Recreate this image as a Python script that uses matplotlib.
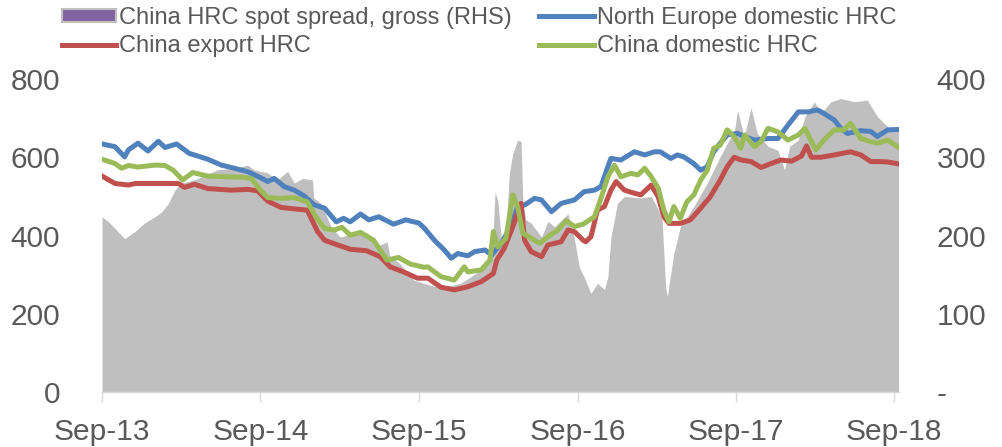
import matplotlib
matplotlib.use("Agg")
import matplotlib.pyplot as plt
import matplotlib.dates as mdates
from matplotlib.patches import Patch
from matplotlib.lines import Line2D
import pandas as pd

plt.rcParams["font.family"] = ["Liberation Sans", "DejaVu Sans"]

# 数据（从图上读取，USD/t）
ne_dates = ["2013-09-01", "2013-10-01", "2013-10-23", "2013-11-01", "2013-11-23", "2013-12-16",
            "2014-01-09", "2014-01-24", "2014-02-20", "2014-03-21", "2014-05-03", "2014-06-03",
            "2014-07-03", "2014-08-03", "2014-09-01", "2014-09-18", "2014-10-03", "2014-10-26",
            "2014-11-18", "2014-12-10", "2015-01-04", "2015-01-27", "2015-02-23", "2015-03-12",
            "2015-03-27", "2015-04-20", "2015-05-09", "2015-06-01", "2015-07-05", "2015-08-02",
            "2015-09-01", "2015-09-13", "2015-10-07", "2015-10-30", "2015-11-15", "2015-11-30",
            "2015-12-23", "2016-01-08", "2016-02-01", "2016-02-16", "2016-03-09", "2016-04-01",
            "2016-04-16", "2016-05-02", "2016-05-25", "2016-06-10", "2016-07-03", "2016-07-25",
            "2016-08-25", "2016-09-16", "2016-10-10", "2016-10-25", "2016-11-10", "2016-11-17",
            "2016-12-10", "2017-01-10", "2017-02-03", "2017-02-25", "2017-03-11", "2017-04-04",
            "2017-04-19", "2017-05-04", "2017-05-27", "2017-06-12", "2017-06-27", "2017-07-12",
            "2017-07-27", "2017-08-12", "2017-09-05", "2017-09-21", "2017-10-14", "2017-11-14",
            "2017-12-07", "2017-12-30", "2018-01-23", "2018-02-15", "2018-03-08", "2018-03-23",
            "2018-04-16", "2018-05-01", "2018-05-16", "2018-06-16", "2018-07-09", "2018-07-24",
            "2018-08-17", "2018-09-11"]
ne_hrc = [634, 627, 601, 619, 636, 616,
          641, 625, 634, 610, 595, 580,
          572, 563, 548, 538, 546, 525,
          516, 502, 478, 470, 435, 444,
          435, 455, 440, 448, 429, 440,
          432, 420, 388, 363, 342, 354,
          348, 359, 363, 350, 380, 423,
          474, 478, 495, 491, 461, 482,
          491, 512, 516, 525, 576, 597,
          593, 614, 606, 614, 614, 597,
          606, 601, 584, 567, 576, 614,
          636, 657, 661, 653, 644, 648,
          648, 682, 716, 716, 721, 712,
          695, 674, 661, 668, 666, 653,
          670, 671]

cn_exp_dates = ["2013-09-01", "2013-10-01", "2013-11-01", "2013-11-16", "2014-02-24", "2014-03-10",
                "2014-04-02", "2014-05-03", "2014-06-26", "2014-08-03", "2014-08-26", "2014-09-18",
                "2014-10-18", "2014-11-18", "2014-12-18", "2015-01-11", "2015-01-27", "2015-02-26",
                "2015-03-27", "2015-05-04", "2015-06-04", "2015-06-27", "2015-07-28", "2015-08-29",
                "2015-09-22", "2015-10-22", "2015-11-22", "2015-12-23", "2016-01-23", "2016-02-20",
                "2016-02-28", "2016-03-16", "2016-04-05", "2016-04-24", "2016-05-02", "2016-05-17",
                "2016-06-10", "2016-06-25", "2016-07-25", "2016-08-10", "2016-08-25", "2016-09-14",
                "2016-09-20", "2016-10-02", "2016-10-17", "2016-11-02", "2016-11-17", "2016-11-29",
                "2016-12-18", "2017-01-10", "2017-01-25", "2017-02-18", "2017-03-06", "2017-03-19",
                "2017-03-31", "2017-04-26", "2017-05-19", "2017-06-12", "2017-07-04", "2017-07-27",
                "2017-08-12", "2017-08-28", "2017-09-13", "2017-10-06", "2017-10-29", "2017-11-21",
                "2017-12-14", "2018-01-07", "2018-01-30", "2018-02-11", "2018-02-22", "2018-03-16",
                "2018-04-16", "2018-05-23", "2018-06-16", "2018-07-09", "2018-08-01", "2018-08-17",
                "2018-09-11"]
cn_exp_hrc = [552, 533, 529, 533, 533, 523,
              531, 520, 516, 518, 514, 488,
              472, 468, 465, 410, 388, 376,
              365, 361, 346, 320, 307, 291,
              291, 268, 261, 269, 282, 303,
              337, 367, 423, 482, 388, 359,
              346, 376, 384, 414, 410, 388,
              384, 397, 465, 474, 516, 538,
              516, 508, 504, 529, 499, 448,
              431, 431, 440, 470, 499, 542,
              576, 600, 593, 589, 574, 584,
              593, 590, 603, 629, 600, 600,
              606, 614, 606, 589, 589, 588,
              583]

cn_dom_dates = ["2013-09-01", "2013-10-01", "2013-10-16", "2013-11-01", "2013-11-23", "2014-01-01",
                "2014-01-24", "2014-02-12", "2014-03-06", "2014-03-29", "2014-05-03", "2014-06-18",
                "2014-07-26", "2014-08-12", "2014-09-01", "2014-09-18", "2014-10-18", "2014-11-18",
                "2014-12-18", "2015-01-07", "2015-01-27", "2015-02-18", "2015-03-08", "2015-03-27",
                "2015-04-20", "2015-05-20", "2015-06-20", "2015-07-16", "2015-08-13", "2015-09-13",
                "2015-09-22", "2015-10-22", "2015-11-22", "2015-12-15", "2015-12-23", "2016-01-23",
                "2016-02-12", "2016-02-20", "2016-03-01", "2016-03-20", "2016-04-05", "2016-04-16",
                "2016-04-28", "2016-05-17", "2016-06-06", "2016-06-25", "2016-07-18", "2016-08-06",
                "2016-08-25", "2016-09-14", "2016-10-10", "2016-10-25", "2016-11-10", "2016-11-25",
                "2016-12-10", "2017-01-02", "2017-01-18", "2017-02-03", "2017-02-18", "2017-03-06",
                "2017-03-19", "2017-03-31", "2017-04-11", "2017-04-26", "2017-05-11", "2017-05-27",
                "2017-06-12", "2017-06-27", "2017-07-12", "2017-07-27", "2017-08-12", "2017-08-28",
                "2017-09-12", "2017-09-21", "2017-10-14", "2017-10-29", "2017-11-14", "2017-12-07",
                "2017-12-30", "2018-01-23", "2018-02-07", "2018-03-04", "2018-03-23", "2018-04-16",
                "2018-05-08", "2018-05-23", "2018-06-16", "2018-07-09", "2018-07-24", "2018-08-17",
                "2018-09-11"]
cn_dom_hrc = [595, 584, 572, 579, 575, 580,
              579, 567, 542, 561, 552, 550,
              549, 545, 516, 497, 495, 497,
              486, 448, 418, 414, 421, 401,
              408, 388, 337, 344, 327, 319,
              320, 295, 286, 320, 307, 312,
              337, 410, 371, 393, 504, 474,
              406, 393, 380, 397, 414, 438,
              423, 429, 448, 495, 550, 580,
              550, 559, 555, 572, 550, 521,
              465, 435, 474, 444, 486, 504,
              542, 567, 623, 631, 670, 653,
              623, 657, 627, 640, 674, 665,
              644, 657, 674, 619, 644, 670,
              670, 687, 648, 640, 636, 644,
              625]

spread_dates = ["2013-09-01", "2013-09-15", "2013-10-01", "2013-10-23", "2013-11-16", "2013-12-08",
                "2014-01-01", "2014-01-16", "2014-02-01", "2014-02-16", "2014-03-02", "2014-04-02",
                "2014-05-25", "2014-07-03", "2014-08-03", "2014-08-17", "2014-09-18", "2014-10-10",
                "2014-11-03", "2014-11-18", "2014-12-07", "2014-12-30", "2015-01-02", "2015-01-19",
                "2015-02-11", "2015-03-04", "2015-04-04", "2015-05-04", "2015-05-27", "2015-06-20",
                "2015-06-27", "2015-07-20", "2015-08-20", "2015-09-13", "2015-10-07", "2015-11-07",
                "2015-12-07", "2016-01-23", "2016-02-12", "2016-02-20", "2016-02-24", "2016-03-01",
                "2016-03-09", "2016-03-20", "2016-03-28", "2016-04-05", "2016-04-16", "2016-04-24",
                "2016-04-28", "2016-05-05", "2016-05-17", "2016-06-10", "2016-06-25", "2016-07-10",
                "2016-08-10", "2016-08-24", "2016-09-05", "2016-09-16", "2016-10-02", "2016-10-17",
                "2016-11-02", "2016-11-10", "2016-11-17", "2016-12-02", "2016-12-18", "2017-01-25",
                "2017-02-18", "2017-03-06", "2017-03-15", "2017-03-23", "2017-03-27", "2017-04-11",
                "2017-04-26", "2017-05-27", "2017-06-27", "2017-07-27", "2017-08-20", "2017-08-29",
                "2017-09-05", "2017-09-20", "2017-10-06", "2017-10-20", "2017-11-14", "2017-12-07",
                "2017-12-22", "2018-01-03", "2018-01-23", "2018-02-07", "2018-03-01", "2018-03-16",
                "2018-04-08", "2018-05-01", "2018-06-01", "2018-07-01", "2018-07-24", "2018-08-17",
                "2018-09-11"]
spread = [224, 218, 209, 196, 205, 216,
          224, 230, 241, 258, 267, 271,
          284, 286, 290, 284, 280, 271,
          282, 267, 273, 271, 248, 241,
          211, 198, 203, 203, 186, 192,
          173, 164, 143, 139, 135, 135,
          139, 156, 173, 211, 256, 245,
          198, 207, 280, 305, 322, 320,
          241, 220, 216, 198, 218, 211,
          228, 198, 160, 147, 126, 139,
          131, 147, 198, 241, 250, 248,
          250, 233, 220, 135, 122, 177,
          211, 237, 267, 301, 326, 335,
          360, 326, 363, 331, 314, 309,
          284, 314, 322, 352, 371, 356,
          371, 375, 371, 373, 352, 339,
          335]

x_ticks = ["2013-09-01", "2014-09-01", "2015-09-01", "2016-09-01", "2017-09-01", "2018-09-01"]

# 样式
TEXT_COLOR = "#595959"
GREY = "#BFBFBF"
BLUE = "#4F81BD"
RED = "#C0504D"
GREEN = "#9BBB59"
PURPLE = "#8064A2"
LW = 3.6

fig = plt.figure(figsize=(10.02, 4.47), dpi=100)
ax = fig.add_axes([0.1018, 0.123, 0.7954, 0.7002])
ax2 = ax.twinx()

# 价差面积图（右轴），放在折线后面
ax2.fill_between(pd.to_datetime(spread_dates), spread, 0, color=GREY, linewidth=0)
ax.set_zorder(ax2.get_zorder() + 1)
ax.patch.set_visible(False)

ax.plot(pd.to_datetime(ne_dates), ne_hrc, color=BLUE, lw=LW)
ax.plot(pd.to_datetime(cn_exp_dates), cn_exp_hrc, color=RED, lw=LW)
ax.plot(pd.to_datetime(cn_dom_dates), cn_dom_hrc, color=GREEN, lw=LW)

ax.set_xlim(pd.Timestamp("2013-09-01"), pd.Timestamp("2018-09-12"))
ax.set_ylim(0, 800)
ax2.set_ylim(0, 400)

ax.set_yticks([0, 200, 400, 600, 800])
ax2.set_yticks([0, 100, 200, 300, 400])
ax2.set_yticklabels(["-", "100", "200", "300", "400"])

ax.set_xticks(pd.to_datetime(x_ticks))
ax.xaxis.set_major_formatter(mdates.DateFormatter("%b-%y"))

for a in (ax, ax2):
    for s in a.spines.values():
        s.set_visible(False)
ax.spines["bottom"].set_visible(True)
ax.spines["bottom"].set_color("#D9D9D9")
ax.spines["bottom"].set_linewidth(1.0)

ax.tick_params(axis="x", colors="#D9D9D9", length=7, width=1, pad=12,
               labelcolor=TEXT_COLOR, labelsize=21.5)
ax.tick_params(axis="y", length=0, pad=30, labelcolor=TEXT_COLOR, labelsize=21.5)
ax2.tick_params(axis="y", length=0, pad=27, labelcolor=TEXT_COLOR, labelsize=21.5)

handles = [
    Patch(facecolor=PURPLE, edgecolor=GREY, linewidth=1.5),
    Line2D([], [], color=RED, lw=LW),
    Line2D([], [], color=BLUE, lw=LW),
    Line2D([], [], color=GREEN, lw=LW),
]
labels = ["China HRC spot spread, gross (RHS)", "China export HRC",
          "North Europe domestic HRC", "China domestic HRC"]
fig.legend(handles, labels, ncol=2, loc="upper left", bbox_to_anchor=(0.052, 1.006),
           frameon=False, fontsize=17, labelcolor=TEXT_COLOR, handlelength=2.3,
           handleheight=0.45, handletextpad=0.15, columnspacing=1.15, labelspacing=0.28,
           borderaxespad=0)

fig.savefig("out.png", dpi=100)
